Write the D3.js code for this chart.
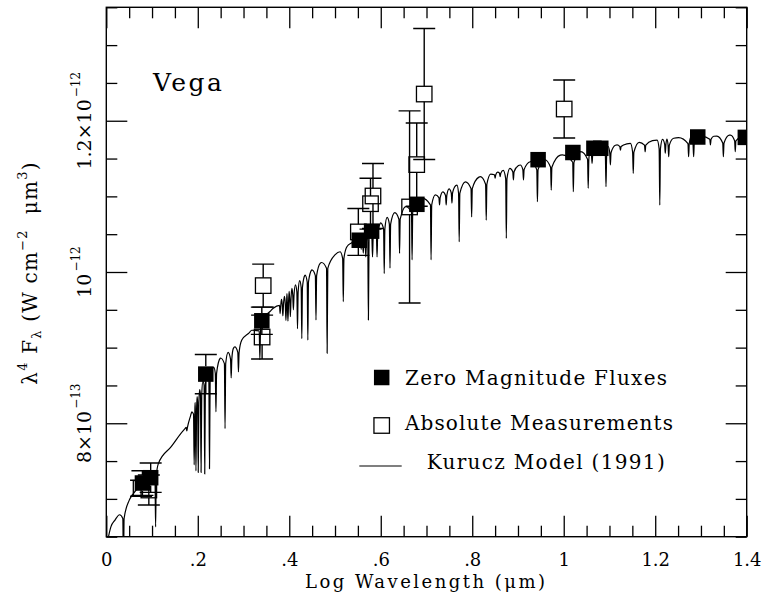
<!DOCTYPE html>
<html><head><meta charset="utf-8">
<script src="https://cdn.jsdelivr.net/npm/d3@7"></script>
<style>
body{margin:0;background:#fff;}
svg text{font-family:"DejaVu Serif","Liberation Serif",serif;fill:#000;}
</style></head><body>
<svg id="c" width="762" height="592"></svg>
<script>
// ---------- data (flux in units of 1e-12 W cm^-2 um^3) ----------
const xTickValues = [0, 0.2, 0.4, 0.6, 0.8, 1.0, 1.2, 1.4];
const xTickLabels = ["0", ".2", ".4", ".6", ".8", "1", "1.2", "1.4"];
const yTickValues = [0.8, 1.0, 1.2];
const yTickMantissa = ["8×10", "10", "1.2×10"];
const yTickExponent = ["−13", "−12", "−12"];

// Zero Magnitude Fluxes (filled squares)
const zeroMagX   = [0.079, 0.097, 0.2175, 0.340, 0.553, 0.580, 0.679, 0.944, 1.020, 1.066, 1.081, 1.293, 1.397];
const zeroMagY   = [0.721, 0.728, 0.865, 0.9355, 1.042, 1.054, 1.0895, 1.1485, 1.158, 1.1636, 1.1636, 1.1785, 1.178];
const zeroMagErr = [0.0163, 0.0194, 0.026, 0.018, 0.008, 0.008, 0.006, 0, 0, 0, 0, 0, 0];

// Absolute Measurements (open squares)
const absX   = [0.076, 0.093, 0.343, 0.3406, 0.551, 0.583, 0.5776, 0.663, 0.6786, 0.695, 1.001];
const absY   = [0.714, 0.7117, 0.982, 0.914, 1.053, 1.1005, 1.0903, 1.086, 1.142, 1.2353, 1.2155];
const absErr = [0.0106, 0.0198, 0.0284, 0.029, 0.031, 0.043, 0.0336, 0.127, 0.055, 0.0866, 0.0383];

// Kurucz model: continuum envelope
const modelContX = [0.000, 0.010, 0.019, 0.029, 0.041, 0.050, 0.058, 0.114, 0.172, 0.179, 0.187, 0.200, 0.215, 0.235, 0.249, 0.2634, 0.2778, 0.2962, 0.318, 0.340, 0.365, 0.402, 0.4347, 0.449, 0.4675, 0.511, 0.526, 0.550, 0.575, 0.5988, 0.6204, 0.6425, 0.6863, 0.7263, 0.7447, 0.7666, 0.7958, 0.8176, 0.8466, 0.876, 0.905, 0.9266, 0.9706, 0.9925, 1.020, 1.070, 1.1166, 1.1457, 1.1748, 1.2041, 1.2404, 1.2697, 1.328, 1.3645, 1.400];
const modelContY = [0.635, 0.663, 0.672, 0.679, 0.689, 0.698, 0.706, 0.747, 0.793, 0.800, 0.815, 0.838, 0.862, 0.874, 0.886, 0.8925, 0.899, 0.910, 0.923, 0.937, 0.952, 0.976, 0.996, 1.0027, 1.0115, 1.0268, 1.0334, 1.045, 1.056, 1.0644, 1.0755, 1.0822, 1.0975, 1.103, 1.1085, 1.115, 1.1217, 1.126, 1.1305, 1.1358, 1.1415, 1.1458, 1.150, 1.1546, 1.157, 1.163, 1.168, 1.170, 1.1723, 1.1745, 1.1768, 1.1789, 1.1795, 1.181, 1.182];
// Kurucz model: absorption lines (position, minimum flux)
const lineX   = [0.0375, 0.1078, 0.176, 0.1921, 0.196, 0.201, 0.2072, 0.2152, 0.2256, 0.2397, 0.2596, 0.273, 0.2889, 0.3357,
  0.380, 0.386, 0.3927, 0.3971, 0.4024, 0.409, 0.418, 0.4274, 0.4406, 0.4584, 0.4828, 0.5181,
  0.5572, 0.5618, 0.5673, 0.573, 0.582, 0.5919, 0.6076, 0.6202, 0.6411, 0.6685, 0.710, 0.7285, 0.743, 0.7556, 0.7715,
  0.7987, 0.8306, 0.850, 0.861, 0.8745, 0.890, 0.912, 0.9425, 0.9727, 1.021, 1.0535, 1.062, 1.0924, 1.102, 1.124, 1.152,
  1.178, 1.210, 1.222, 1.2295, 1.273, 1.284, 1.3207, 1.349, 1.375];
const lineMin = [0.600, 0.663, 0.790, 0.745, 0.737, 0.735, 0.735, 0.733, 0.740, 0.815, 0.793, 0.860, 0.868, 0.884,
  0.945, 0.942, 0.936, 0.935, 0.941, 0.950, 0.925, 0.912, 0.910, 0.9365, 0.8925, 0.9607,
  1.030, 1.025, 1.020, 0.9365, 1.020, 1.020, 0.998, 1.005, 1.0247, 1.016, 1.016, 1.0886, 1.0886, 1.091, 1.040,
  1.073, 1.0687, 1.124, 1.126, 1.0446, 1.1217, 1.1217, 1.093, 1.1082, 1.106, 1.1107, 1.1437, 1.1128, 1.1415, 1.161, 1.1305,
  1.159, 1.0885, 1.157, 1.1524, 1.1524, 1.1524, 1.168, 1.1524, 1.159];

// ---------- layout ----------
const X0 = 106.3, X1 = 746.7, Y0 = 7.3, Y1 = 536.7;
const svg = d3.select("#c");
svg.append("rect").attr("width", 762).attr("height", 592).attr("fill", "#fff");
const x = d3.scaleLinear().domain([0, 1.4]).range([X0, X1]);
const y = d3.scaleLinear().domain([0.65, 1.35]).range([Y1, Y0]);

svg.append("defs").append("clipPath").attr("id", "clip")
  .append("rect").attr("x", X0).attr("y", Y0).attr("width", X1 - X0).attr("height", Y1 - Y0);

// ---------- model line ----------
function contAt(v) {
  let i = d3.bisectRight(modelContX, v);
  i = Math.max(1, Math.min(modelContX.length - 1, i));
  const a = modelContX[i - 1], b = modelContX[i];
  const t = (v - a) / (b - a);
  return modelContY[i - 1] + t * (modelContY[i] - modelContY[i - 1]);
}
let pts = [];
modelContX.forEach((cx, i) => {
  if (!lineX.some(lx => Math.abs(lx - cx) < 0.004)) pts.push([cx, modelContY[i]]);
});
lineX.forEach((lx, i) => {
  const c = contAt(lx), D = c - lineMin[i];
  const w = Math.min(0.012, 0.35 * D), h = 0.0014;
  pts.push([lx - h, c - w], [lx, lineMin[i]], [lx + h, c - w]);
  if (i < lineX.length - 1 && lineX[i + 1] - lx > 0.0029) {
    const m = (lx + lineX[i + 1]) / 2;
    pts.push([m, contAt(m)]);
  }
});
pts.sort((a, b) => a[0] - b[0]);
pts = pts.filter((p, i) => i === 0 || p[0] - pts[i - 1][0] > 1e-7);

const plot = svg.append("g").attr("clip-path", "url(#clip)");
plot.append("path").datum(pts)
  .attr("fill", "none").attr("stroke", "#000").attr("stroke-width", 1.2)
  .attr("stroke-linejoin", "round")
  .attr("d", d3.line().x(d => x(d[0])).y(d => y(d[1])).curve(d3.curveMonotoneX));

// ---------- error bars + markers ----------
const S = 15.5, CAP = 22;
function errBars(xs, ys, es) {
  const g = plot.append("g").attr("stroke", "#000").attr("stroke-width", 1.4).attr("fill", "none");
  xs.forEach((vx, i) => {
    const px = x(vx), py = y(ys[i]);
    const top = y(ys[i] + es[i]), bot = y(ys[i] - es[i]);
    if (py - top <= S / 2) return;
    g.append("path").attr("d",
      `M${px},${top}V${py - S / 2}M${px},${py + S / 2}V${bot}` +
      `M${px - CAP / 2},${top}H${px + CAP / 2}M${px - CAP / 2},${bot}H${px + CAP / 2}`);
  });
}
errBars(absX, absY, absErr);
errBars(zeroMagX, zeroMagY, zeroMagErr);

plot.append("g").selectAll("rect").data(absX).join("rect")
  .attr("x", (d) => x(d) - S / 2).attr("y", (d, i) => y(absY[i]) - S / 2)
  .attr("width", S).attr("height", S)
  .attr("fill", "none").attr("stroke", "#000").attr("stroke-width", 1.3);

plot.append("g").selectAll("rect").data(zeroMagX).join("rect")
  .attr("x", (d) => x(d) - S / 2).attr("y", (d, i) => y(zeroMagY[i]) - S / 2)
  .attr("width", S).attr("height", S).attr("fill", "#000");

// ---------- axes ----------
const minorX = d3.range(0, 1.4001, 0.05).filter(v => !xTickValues.some(t => Math.abs(t - v) < 1e-6));
const minorY = d3.range(0.65, 1.3501, 0.05).filter(v => !yTickValues.some(t => Math.abs(t - v) < 1e-6));
const MAJ = 21, MIN = 11;
function styleAxis(g) {
  g.select(".domain").remove();
  g.selectAll(".tick line").attr("stroke", "#000").attr("stroke-width", 1.3);
}
// bottom
svg.append("g").attr("transform", `translate(0,${Y1})`)
  .call(d3.axisBottom(x).tickValues(xTickValues).tickFormat((d, i) => xTickLabels[i])
    .tickSize(-MAJ).tickSizeOuter(0).tickPadding(17))
  .call(styleAxis)
  .call(g => g.selectAll("text").attr("font-size", 18).attr("font-family", "DejaVu Serif").attr("fill", "#000"));
svg.append("g").attr("transform", `translate(0,${Y1})`)
  .call(d3.axisBottom(x).tickValues(minorX).tickFormat("").tickSize(-MIN).tickSizeOuter(0)).call(styleAxis);
// top
svg.append("g").attr("transform", `translate(0,${Y0})`)
  .call(d3.axisTop(x).tickValues(xTickValues).tickFormat("").tickSize(-MAJ).tickSizeOuter(0)).call(styleAxis);
svg.append("g").attr("transform", `translate(0,${Y0})`)
  .call(d3.axisTop(x).tickValues(minorX).tickFormat("").tickSize(-MIN).tickSizeOuter(0)).call(styleAxis);
// left
svg.append("g").attr("transform", `translate(${X0},0)`)
  .call(d3.axisLeft(y).tickValues(yTickValues).tickFormat("").tickSize(-MAJ).tickSizeOuter(0)).call(styleAxis);
svg.append("g").attr("transform", `translate(${X0},0)`)
  .call(d3.axisLeft(y).tickValues(minorY).tickFormat("").tickSize(-MIN).tickSizeOuter(0)).call(styleAxis);
// right
svg.append("g").attr("transform", `translate(${X1},0)`)
  .call(d3.axisRight(y).tickValues(yTickValues).tickFormat("").tickSize(-MAJ).tickSizeOuter(0)).call(styleAxis);
svg.append("g").attr("transform", `translate(${X1},0)`)
  .call(d3.axisRight(y).tickValues(minorY).tickFormat("").tickSize(-MIN).tickSizeOuter(0)).call(styleAxis);

// frame
svg.append("rect").attr("x", X0).attr("y", Y0).attr("width", X1 - X0).attr("height", Y1 - Y0)
  .attr("fill", "none").attr("stroke", "#000").attr("stroke-width", 1.4);

// y tick labels (rotated, with exponent)
yTickValues.forEach((v, i) => {
  const t = svg.append("text").attr("transform", `translate(91,${y(v)}) rotate(-90)`)
    .attr("text-anchor", "middle").attr("font-size", 19);
  t.append("tspan").text(yTickMantissa[i]);
  t.append("tspan").attr("font-size", 12).attr("dy", -11).attr("dx", 2).text(yTickExponent[i]);
});

// y axis title
{
  const t = svg.append("text").attr("transform", `translate(37,273) rotate(-90)`)
    .attr("text-anchor", "middle").attr("font-size", 20).attr("letter-spacing", 1.2);
  t.append("tspan").text("λ");
  t.append("tspan").attr("font-size", 13).attr("dy", -10).text("4");
  t.append("tspan").attr("dy", 10).text("\u00a0F");
  t.append("tspan").attr("font-size", 13).attr("dy", 4).text("λ");
  t.append("tspan").attr("dy", -4).text("\u00a0(W\u00a0cm");
  t.append("tspan").attr("font-size", 13).attr("dy", -10).text("−2");
  t.append("tspan").attr("dy", 10).text("\u00a0\u00a0μm");
  t.append("tspan").attr("font-size", 13).attr("dy", -10).text("3");
  t.append("tspan").attr("dy", 10).text(")");
}

// x axis title
svg.append("text").attr("x", 305).attr("y", 588).attr("font-size", 18)
  .attr("textLength", 240).attr("lengthAdjust", "spacing").text("Log Wavelength (μm)");

// Vega label
svg.append("text").attr("x", 153).attr("y", 91).attr("font-size", 25)
  .attr("textLength", 69).attr("lengthAdjust", "spacing").text("Vega");

// legend
svg.append("rect").attr("x", 381.7 - S / 2).attr("y", 377.5 - S / 2).attr("width", S).attr("height", S).attr("fill", "#000");
svg.append("text").attr("x", 405).attr("y", 384.5).attr("font-size", 20)
  .attr("textLength", 262).attr("lengthAdjust", "spacing").text("Zero Magnitude Fluxes");
svg.append("rect").attr("x", 381.7 - S / 2).attr("y", 425.5 - S / 2).attr("width", S).attr("height", S)
  .attr("fill", "none").attr("stroke", "#000").attr("stroke-width", 1.3);
svg.append("text").attr("x", 405).attr("y", 430).attr("font-size", 20)
  .attr("textLength", 268).attr("lengthAdjust", "spacing").text("Absolute Measurements");
svg.append("line").attr("x1", 359.3).attr("x2", 401.7).attr("y1", 466).attr("y2", 466)
  .attr("stroke", "#000").attr("stroke-width", 1.2);
svg.append("text").attr("x", 426.7).attr("y", 469).attr("font-size", 20)
  .attr("textLength", 238).attr("lengthAdjust", "spacing").text("Kurucz Model (1991)");
</script>
</body></html>
